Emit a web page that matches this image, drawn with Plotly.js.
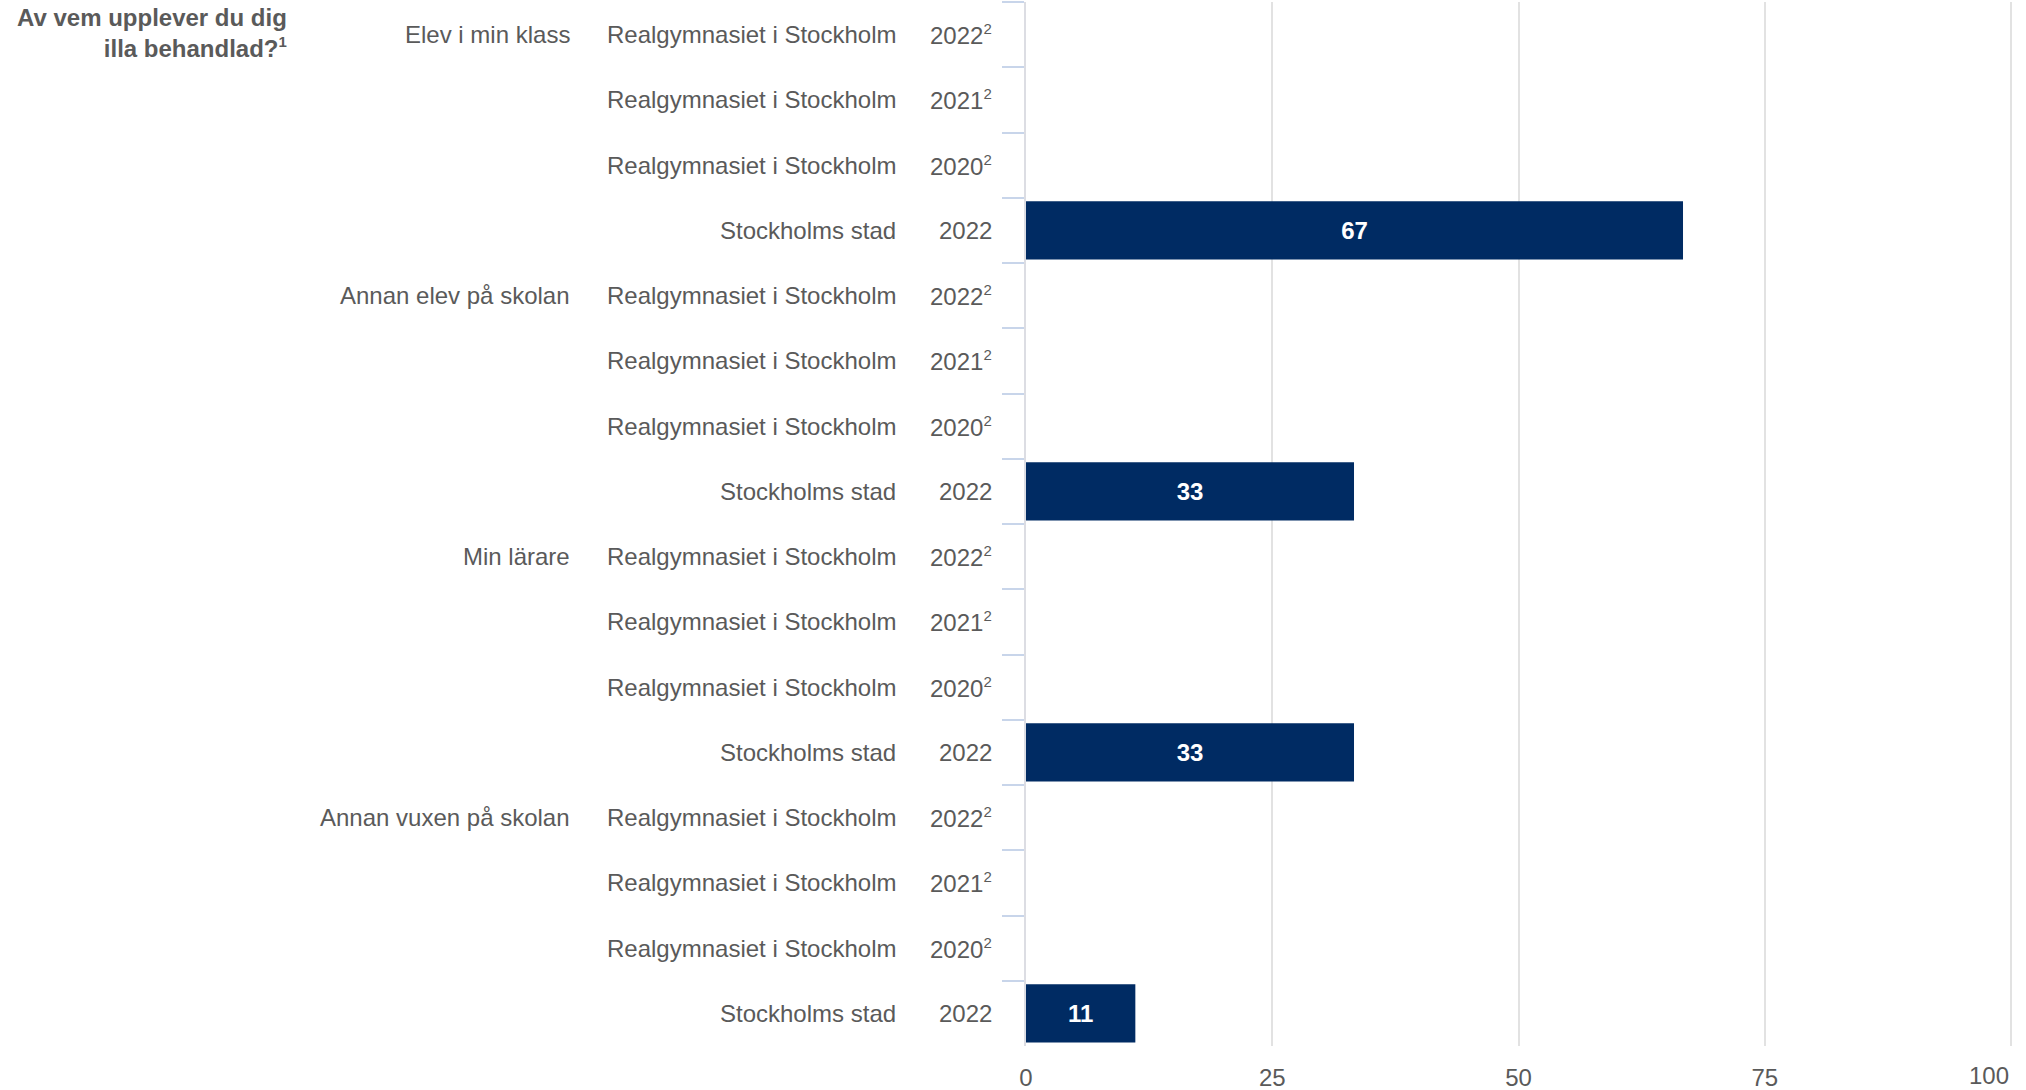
<!DOCTYPE html>
<html>
<head>
<meta charset="utf-8">
<script src="https://cdn.plot.ly/plotly-3.0.1.min.js"></script>
<style>
  html, body { margin: 0; padding: 0; background: #ffffff; }
  #chart { width: 2026px; height: 1090px; }
</style>
</head>
<body>
<div id="chart"></div>
<script>
// ---- Data ----
const groupLabels = ['Elev i min klass', 'Annan elev på skolan', 'Min lärare', 'Annan vuxen på skolan'];
const rowEntities = ['Realgymnasiet i Stockholm', 'Realgymnasiet i Stockholm', 'Realgymnasiet i Stockholm', 'Stockholms stad'];
const SUP2 = '<sup><span style="font-size:15px">2</span></sup>';
const rowYears = ['2022' + SUP2, '2021' + SUP2, '2020' + SUP2, '2022'];
const valuesElevKlass = [null, null, null, 66.7];
const valuesAnnanElev = [null, null, null, 33.3];
const valuesLarare = [null, null, null, 33.3];
const valuesAnnanVuxen = [null, null, null, 11.1];
const xTickVals = [0, 25, 50, 75, 100];
const xTickText = ['0', '25', '50', '75', '100'];
const titleText = 'Av vem upplever du dig<br>illa behandlad?<sup><span style="font-size:15px">1</span></sup>';

// ---- Build ----
const groupValues = [valuesElevKlass, valuesAnnanElev, valuesLarare, valuesAnnanVuxen];
const ids = [], xs = [];
groupLabels.forEach((g, gi) => {
  rowEntities.forEach((e, ri) => {
    ids.push('g' + gi + 'r' + ri);
    xs.push(groupValues[gi][ri]);
  });
});

const FONT = 'Liberation Sans, Arial, Helvetica, sans-serif';
const GRAY = '#5a5a5a';
const L = 1026, R = 13, T = 2, B = 44;
const plotW = 2026 - L - R;
const px2paper = p => (p - L) / plotW;

const annotations = [];
ids.forEach((id, i) => {
  const gi = Math.floor(i / rowEntities.length), ri = i % rowEntities.length;
  annotations.push({
    xref: 'paper', yref: 'y', x: px2paper(994), y: id, xanchor: 'right', yanchor: 'middle',
    text: rowYears[ri], showarrow: false, font: {family: FONT, size: 24, color: GRAY}
  });
  annotations.push({
    xref: 'paper', yref: 'y', x: px2paper(898), y: id, xanchor: 'right', yanchor: 'middle',
    text: rowEntities[ri], showarrow: false, font: {family: FONT, size: 24, color: GRAY}
  });
  if (ri === 0) {
    annotations.push({
      xref: 'paper', yref: 'y', x: px2paper(572), y: id, xanchor: 'right', yanchor: 'middle',
      text: groupLabels[gi], showarrow: false, font: {family: FONT, size: 24, color: GRAY}
    });
  }
});
annotations.push({
  xref: 'paper', yref: 'paper', x: px2paper(289), y: 1.0, xanchor: 'right', yanchor: 'top',
  text: '<b>' + titleText + '</b>', align: 'right', showarrow: false,
  font: {family: FONT, size: 24, color: GRAY}
});
// right-most x tick label aligned to the page edge
annotations.push({
  xref: 'x', yref: 'paper', x: xTickVals[4], y: 0, yshift: -14, xshift: 0, xanchor: 'right', yanchor: 'top',
  text: xTickText[4], showarrow: false, font: {family: FONT, size: 24, color: GRAY}
});

const trace = {
  type: 'bar', orientation: 'h',
  x: xs, y: ids, width: 0.89,
  marker: {color: '#002b63'},
  texttemplate: '%{x:.0f}', textposition: 'inside', insidetextanchor: 'middle', textangle: 0,
  constraintext: 'none',
  textfont: {family: FONT, size: 24, color: '#ffffff', weight: 'bold'},
  hoverinfo: 'none', cliponaxis: false
};

const layout = {
  width: 2026, height: 1090,
  margin: {l: L, r: R, t: T, b: B, pad: 0},
  paper_bgcolor: '#ffffff', plot_bgcolor: '#ffffff',
  showlegend: false,
  font: {family: FONT, size: 24, color: GRAY},
  xaxis: {
    range: [0, 100.2], fixedrange: true,
    tickmode: 'array', tickvals: xTickVals, ticktext: xTickText.slice(0, 4).concat(['']),
    showgrid: true, gridcolor: '#e2e2e2', gridwidth: 2,
    zeroline: false, showline: false,
    ticks: 'outside', ticklen: 10, tickcolor: 'rgba(0,0,0,0)',
    tickfont: {family: FONT, size: 24, color: GRAY}
  },
  yaxis: {
    type: 'category', categoryorder: 'array', categoryarray: ids,
    autorange: 'reversed', fixedrange: true,
    showticklabels: false, showgrid: false, zeroline: false,
    tickson: 'boundaries', ticks: 'outside', ticklen: 22, tickwidth: 2, tickcolor: '#c8d5ea',
    showline: true, linecolor: '#dcdde3', linewidth: 2
  },
  annotations: annotations
};

Plotly.newPlot('chart', [trace], layout, {displayModeBar: false, staticPlot: true});
</script>
</body>
</html>
